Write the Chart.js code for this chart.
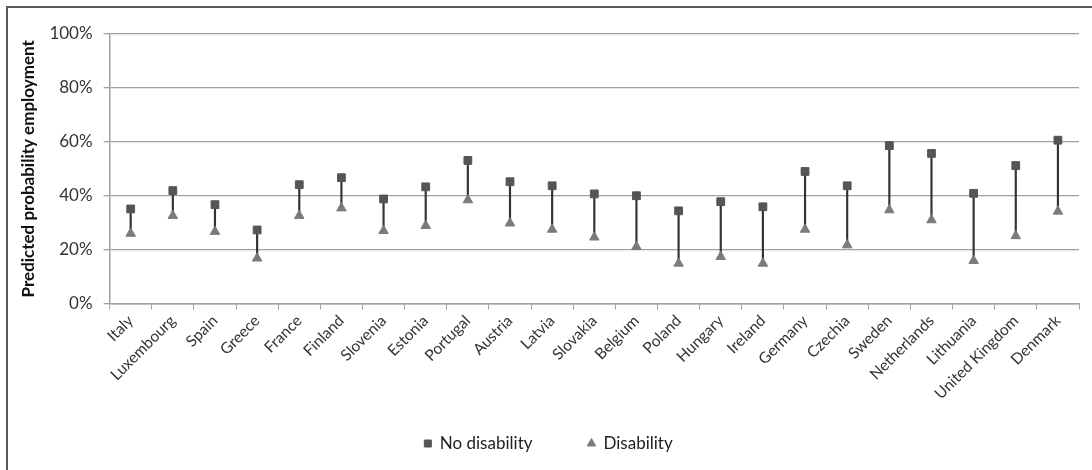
<!DOCTYPE html>
<html>
<head>
<meta charset="utf-8">
<script src="https://cdn.jsdelivr.net/npm/chart.js@4"></script>
<style>
  html, body { margin: 0; padding: 0; background: #fff; }
  #wrap { position: relative; width: 1092px; height: 470px; }
  #frame { position: absolute; left: 6px; top: 6px; right: 0; bottom: 0;
           border-left: 2px solid #5a5a5a; border-top: 2px solid #5a5a5a; }
  canvas { position: absolute; left: 0; top: 0; }
</style>
</head>
<body>
<div id="wrap">
  <div id="frame"></div>
  <canvas id="grafico" width="1092" height="470"></canvas>
</div>
<script>
// Datos (porcentajes)
const paises = ['Italy', 'Luxembourg', 'Spain', 'Greece', 'France', 'Finland', 'Slovenia', 'Estonia',
  'Portugal', 'Austria', 'Latvia', 'Slovakia', 'Belgium', 'Poland', 'Hungary', 'Ireland', 'Germany',
  'Czechia', 'Sweden', 'Netherlands', 'Lithuania', 'United Kingdom', 'Denmark'];
const sinDiscapacidad = [35.1, 41.9, 36.7, 27.3, 44.1, 46.7, 38.8, 43.3, 53.1, 45.2, 43.7, 40.7,
  40.0, 34.4, 37.8, 35.9, 49.0, 43.7, 58.6, 55.7, 40.9, 51.2, 60.6];
const conDiscapacidad = [26.0, 32.6, 26.7, 16.8, 32.6, 35.4, 27.0, 28.9, 38.4, 29.8, 27.5, 24.6,
  21.1, 14.9, 17.4, 14.9, 27.5, 21.7, 34.7, 31.0, 15.9, 25.1, 34.2];
const ticksY = [0, 20, 40, 60, 80, 100];

const rangos = paises.map((p, i) => [conDiscapacidad[i], sinDiscapacidad[i]]);
const fuente = 'Lato, "Open Sans", sans-serif';

const ctx = document.getElementById('grafico').getContext('2d');
new Chart(ctx, {
  type: 'bar',
  data: {
    labels: paises,
    datasets: [
      {
        type: 'line',
        label: 'No disability',
        data: sinDiscapacidad,
        showLine: false,
        pointStyle: 'rect',
        pointRadius: 5.5,
        pointBackgroundColor: '#555555',
        pointBorderColor: '#555555',
        backgroundColor: '#555555',
        borderColor: '#555555',
        order: 1
      },
      {
        type: 'line',
        label: 'Disability',
        data: conDiscapacidad,
        showLine: false,
        pointStyle: 'triangle',
        pointRadius: 5.5,
        pointBackgroundColor: '#7b7b7b',
        pointBorderColor: '#7b7b7b',
        backgroundColor: '#7b7b7b',
        borderColor: '#7b7b7b',
        order: 2
      },
      {
        label: 'rango',
        data: rangos,
        backgroundColor: '#333333',
        barThickness: 1.5,
        order: 3
      }
    ]
  },
  options: {
    responsive: false,
    animation: false,
    layout: { padding: { left: 18, right: 13, top: 34, bottom: 8 } },
    plugins: {
      tooltip: { enabled: false },
      legend: {
        position: 'bottom',
        labels: {
          usePointStyle: true,
          boxWidth: 7,
          boxHeight: 7,
          padding: 30,
          color: '#222',
          font: { family: fuente, size: 17 },
          generateLabels: chart => Chart.defaults.plugins.legend.labels.generateLabels(chart)
            .filter(item => item.text !== 'rango')
            .map((item, i) => { if (i === 0) item.text += '\u2002\u2002\u2002'; return item; })
        }
      }
    },
    scales: {
      x: {
        grid: { display: true, drawOnChartArea: false, drawTicks: true, tickLength: 6, color: '#a0a0a0', offset: true },
        border: { color: '#a0a0a0', width: 1.5 },
        ticks: { maxRotation: 45, minRotation: 45, color: '#333', font: { family: fuente, size: 15.5 }, padding: 2 }
      },
      y: {
        min: 0,
        max: 100,
        afterBuildTicks: axis => { axis.ticks = ticksY.map(v => ({ value: v })); },
        grid: { color: '#a0a0a0', lineWidth: 1.3, tickLength: 6 },
        border: { color: '#a0a0a0', width: 1.5 },
        ticks: { callback: v => v + '%', color: '#333', font: { family: fuente, size: 17 }, padding: 11 },
        title: { display: true, text: 'Predicted probability employment', color: '#111',
                 font: { family: fuente, size: 17, weight: 'bold' }, padding: 0 }
      }
    }
  }
});
</script>
</body>
</html>
